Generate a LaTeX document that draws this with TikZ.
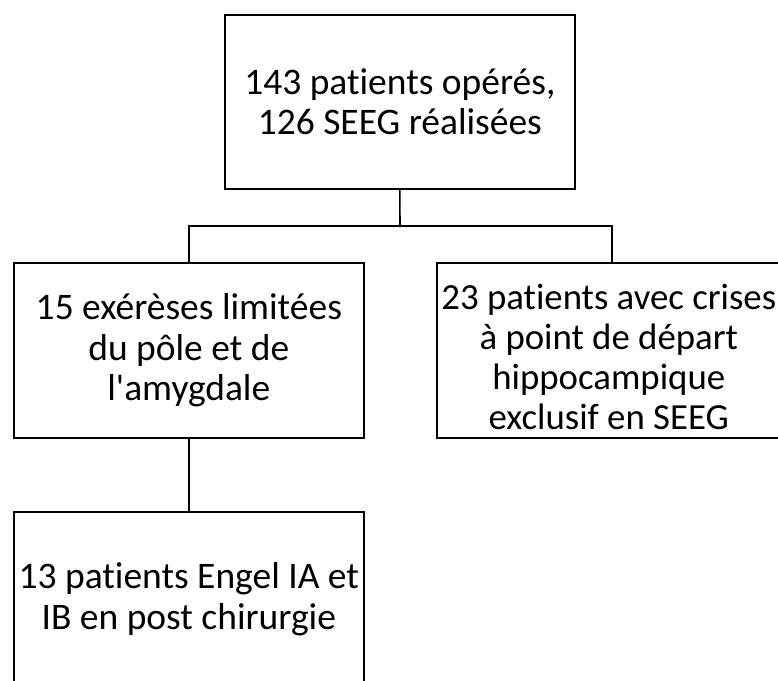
\documentclass[tikz,border=0pt]{standalone}
\usepackage{fontspec}
\setmainfont{Carlito}[Ligatures={TeX,NoCommon}]
\begin{document}
\begin{tikzpicture}[x=1pt,y=-1pt,
  boxstyle/.style={draw=black, line width=1.6pt, fill=white, align=center,
    font=\fontsize{37.5}{40.5}\selectfont, inner sep=0pt, minimum width=#1, anchor=north west},
  txt/.style={align=center, font=\fontsize{36.8}{40}\selectfont, inner sep=0pt},
  conn/.style={draw=black, line width=1.6pt}]
\useasboundingbox (0,0) rectangle (778,680);
\clip (0,0) rectangle (778,680);
\fill[white] (0,0) rectangle (778,680);
\node[boxstyle=350pt, minimum height=174pt] (top) at (224,14) {143 patients opérés,\\126 SEEG réalisées};
\node[boxstyle=350pt, minimum height=175pt] (left) at (13,262) {15 exérèses limitées\\du pôle et de\\l\textquotesingle amygdale};
\node[boxstyle=346pt, minimum height=175pt] (right) at (436,262) {};
\node[txt] (righttext) at ([xshift=-1pt,yshift=-7pt]right.center) {23 patients avec crises\\à point de départ\\hippocampique\\exclusif en SEEG};
\node[boxstyle=350pt, minimum height=175pt] (bot) at (13,511) {13 patients Engel IA et\\IB en post chirurgie};
\coordinate (j) at (400,226);
\coordinate (rtop) at (612,262);
\draw[conn] (top.south) -- (j);
\draw[conn] (j) -| (left.north);
\draw[conn] (j) -| (rtop);
\draw[conn] (left.south) -- (bot.north);
\end{tikzpicture}
\end{document}
